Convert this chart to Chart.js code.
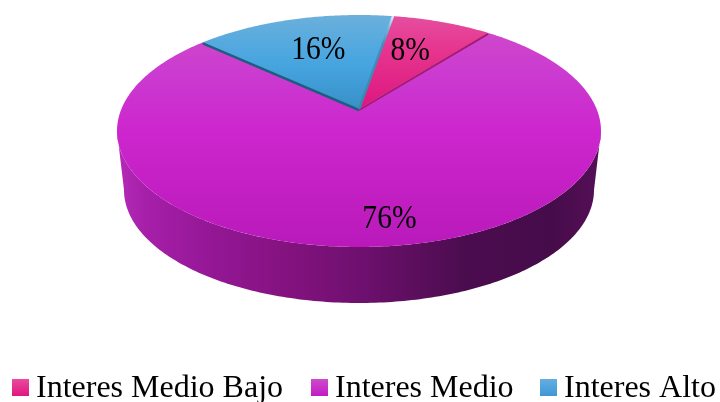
<!DOCTYPE html>
<html>
<head>
<meta charset="utf-8">
<style>html,body{margin:0;padding:0;background:#fff}canvas{display:block}</style>
<script src="https://cdn.jsdelivr.net/npm/chart.js@4/dist/chart.umd.min.js"></script>
</head>
<body>
<canvas id="pie" width="720" height="402"></canvas>
<script>
// Series shown in the pie
const categories = ["Interes Medio Bajo", "Interes Medio", "Interes Alto"];
const shares = [8, 76, 16];
const baseColors = ["#e3268c", "#cb25cc", "#45a3de"];
const firstSliceRotation = 9.8;

// Tilted disc: projective mapping of the unit circle onto the screen
const disc = { cx: 359, apexY: 109, scaleX: 237.6, scaleY: 91.15, k: -0.1897 };
const topRim = { cx: 359, cy: 131, rx: 242, ry: 116 };
const baseRim = { cx: 359, cy: 190, rx: 235, ry: 113 };

function project(u, v) {
  const w = 1 + disc.k * v;
  return [disc.cx + disc.scaleX * u / w, (disc.apexY + disc.scaleY * v) / w];
}

// Vertical gradient for each top face, plus the y range it covers
const faceStops = [
  { y0: 15, y1: 110, stops: [[0, "#e54f9f"], [0.35, "#e6368f"], [1, "#dd1580"]] },
  { y0: 15, y1: 247, stops: [[0, "#d04cc9"], [0.25, "#cb3bd0"], [0.5, "#cd26ce"], [1, "#b919ba"]] },
  { y0: 15, y1: 110, stops: [[0, "#6bb0dc"], [0.5, "#47a5e0"], [1, "#3790c8"]] }
];
const swatchStops = [
  ["#ea4a9e", "#e0177f"],
  ["#cf4bcd", "#c01bc2"],
  ["#64aee2", "#3f97d4"]
];
const wallStops = [
  [0, "#b32bb6"], [0.06, "#a61fa9"], [0.2, "#931795"], [0.35, "#84127f"],
  [0.5, "#6f1070"], [0.62, "#5b0e5c"], [0.72, "#4b0c4f"], [0.9, "#460c4a"], [1, "#560f58"]
];
const labelFractions = [0.654, 0.819, 0.643];
const labelNudgeX = [-6, 12, 4];

function linear(ctx, x0, y0, x1, y1, stops) {
  const g = ctx.createLinearGradient(x0, y0, x1, y1);
  stops.forEach(s => g.addColorStop(s[0], s[1]));
  return g;
}

function wedgePath(ctx, a0, a1) {
  ctx.beginPath();
  const a = project(0, 0);
  ctx.moveTo(a[0], a[1]);
  const n = Math.max(8, Math.ceil((a1 - a0) / 0.01));
  for (let i = 0; i <= n; i++) {
    const t = a0 + (a1 - a0) * i / n;
    const p = project(Math.cos(t), Math.sin(t));
    ctx.lineTo(p[0], p[1]);
  }
  ctx.closePath();
}

// Draws the disc from the arc elements the doughnut controller laid out
const tiltedPie = {
  id: "tiltedPie",
  beforeDatasetDraw(chart) {
    const ctx = chart.ctx;
    const arcs = chart.getDatasetMeta(0).data;
    ctx.save();

    // outer wall below the front rim
    ctx.beginPath();
    for (let i = 0; i <= 180; i++) {
      const t = Math.PI - i * Math.PI / 180;
      ctx.lineTo(topRim.cx + topRim.rx * Math.cos(t), topRim.cy + topRim.ry * Math.sin(t));
    }
    for (let i = 0; i <= 180; i++) {
      const t = i * Math.PI / 180;
      ctx.lineTo(baseRim.cx + baseRim.rx * Math.cos(t), baseRim.cy + baseRim.ry * Math.sin(t));
    }
    ctx.closePath();
    ctx.fillStyle = linear(ctx, 117, 0, 601, 0, wallStops);
    ctx.fill();

    // top faces, large slice first
    [1, 0, 2].forEach(i => {
      const el = arcs[i];
      const f = faceStops[i];
      wedgePath(ctx, el.startAngle, el.endAngle);
      ctx.fillStyle = linear(ctx, 0, f.y0, 0, f.y1, f.stops);
      ctx.fill();
    });

    // thin cut faces along the raised slices
    const apex = project(0, 0);
    const rim = t => project(Math.cos(t), Math.sin(t));
    const edge = (p, color, width, dx, dy) => {
      ctx.beginPath();
      ctx.moveTo(apex[0] + dx, apex[1] + dy);
      ctx.lineTo(p[0] + dx, p[1] + dy);
      ctx.strokeStyle = color;
      ctx.lineWidth = width;
      ctx.stroke();
    };
    edge(rim(arcs[2].startAngle), "#1b5f80", 2.5, 0, 1);
    edge(rim(arcs[0].endAngle), "#a31a70", 2, 0, 1);
    const seam = rim(arcs[0].startAngle);
    edge(seam, linear(ctx, 0, seam[1], 0, apex[1], [[0, "#e4eef4"], [0.12, "#7fb6d6"], [0.3, "#3f90bd"], [1, "#3a86b0"]]), 2.5, 0, 0);

    ctx.restore();
    return false;
  },
  afterDraw(chart) {
    const ctx = chart.ctx;
    const arcs = chart.getDatasetMeta(0).data;
    ctx.save();
    ctx.fillStyle = "#000";
    ctx.textBaseline = "alphabetic";

    // value labels: tall, slightly condensed serif
    ctx.font = "34px 'Liberation Serif'";
    ctx.textAlign = "center";
    arcs.forEach((el, i) => {
      const mid = (el.startAngle + el.endAngle) / 2;
      const r = labelFractions[i];
      const p = project(r * Math.cos(mid), r * Math.sin(mid));
      ctx.save();
      ctx.translate(p[0] + labelNudgeX[i], p[1] + 11);
      ctx.scale(0.87, 1);
      ctx.fillText(shares[i] + "%", 0, 0);
      ctx.restore();
    });

    // legend row
    const rowX = [12, 311, 540];
    ctx.font = "32px 'Liberation Serif'";
    ctx.textAlign = "left";
    categories.forEach((name, i) => {
      ctx.fillStyle = linear(ctx, 0, 379, 0, 396, swatchStops[i].map((c, j) => [j, c]));
      ctx.fillRect(rowX[i], 379, 17, 17);
      ctx.fillStyle = "#000";
      ctx.fillText(name, rowX[i] + 24, 397);
    });
    ctx.restore();
  }
};

new Chart(document.getElementById("pie"), {
  type: "pie",
  data: {
    labels: categories,
    datasets: [{ data: shares, backgroundColor: baseColors, borderWidth: 0 }]
  },
  options: {
    responsive: false,
    animation: false,
    rotation: firstSliceRotation,
    plugins: { legend: { display: false }, tooltip: { enabled: false } }
  },
  plugins: [tiltedPie]
});
</script>
</body>
</html>
